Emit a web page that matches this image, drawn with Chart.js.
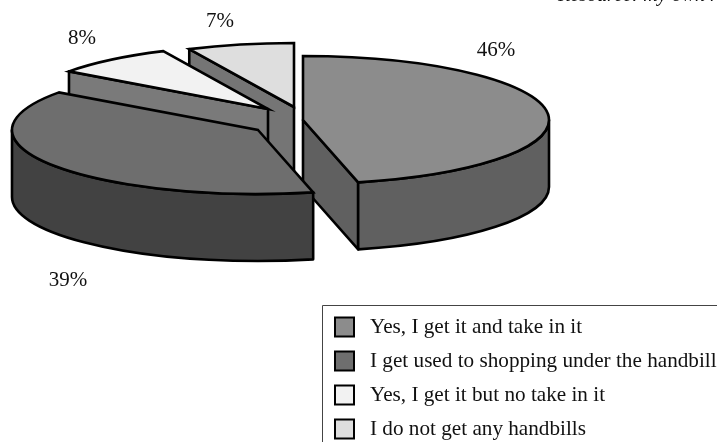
<!DOCTYPE html>
<html>
<head>
<meta charset="utf-8">
<style>
  html, body { margin: 0; padding: 0; background: #fff; }
  #wrap { position: relative; width: 717px; height: 442px; overflow: hidden; }
</style>
<script src="https://cdn.jsdelivr.net/npm/chart.js@4/dist/chart.umd.min.js"></script>
</head>
<body>
<div id="wrap"><canvas id="pie" width="717" height="442"></canvas></div>
<script>
const categories = [
  'Yes, I get it and take in it',
  'I get used to shopping under the handbill',
  'Yes, I get it but no take in it',
  'I do not get any handbills'
]
// slice sizes as measured on the picture, they round to the printed labels
const shares = [46.4, 38.6, 8, 7]
const topColors = ['#8c8c8c', '#6e6e6e', '#f2f2f2', '#dedede']
const wallColors = ['#606060', '#424242', '#7a7a7a', '#757575']

// how the flat pie is turned into the tilted, exploded one
const radiusX = 246
const radiusY = 64
const depth = 67
const explode = [[24, -1], [-21, 9], [-11, -12], [15, -14]]
const drawOrder = [3, 2, 0, 1]
const labelSpots = [[496, 50], [68, 280], [82, 38], [220, 21]]
const serif = '"Liberation Serif", serif'

function outlined(ctx, fill) {
  ctx.fillStyle = fill
  ctx.fill()
  ctx.strokeStyle = '#000'
  ctx.lineWidth = 2.6
  ctx.lineJoin = 'round'
  ctx.stroke()
}

function drawCutWall(ctx, cx, cy, angle, fill) {
  const ex = cx + radiusX * Math.cos(angle)
  const ey = cy + radiusY * Math.sin(angle)
  ctx.beginPath()
  ctx.moveTo(cx, cy)
  ctx.lineTo(ex, ey)
  ctx.lineTo(ex, ey + depth)
  ctx.lineTo(cx, cy + depth)
  ctx.closePath()
  outlined(ctx, fill)
}

function drawSlice(chart, el, i) {
  const ctx = chart.ctx
  const cx = el.x + explode[i][0]
  const cy = el.y + explode[i][1]
  const a0 = el.startAngle
  const a1 = el.endAngle

  // side walls first, the top goes over them
  if (Math.cos(a0) < -0.01) drawCutWall(ctx, cx, cy, a0, wallColors[i])
  if (Math.cos(a1) > 0.01) drawCutWall(ctx, cx, cy, a1, wallColors[i])
  const from = Math.max(a0, 0)
  const to = Math.min(a1, Math.PI)
  if (to > from) {
    ctx.beginPath()
    ctx.ellipse(cx, cy, radiusX, radiusY, 0, from, to)
    ctx.ellipse(cx, cy + depth, radiusX, radiusY, 0, to, from, true)
    ctx.closePath()
    outlined(ctx, wallColors[i])
  }

  ctx.save()
  ctx.translate(cx, cy)
  ctx.scale(radiusX / el.outerRadius, radiusY / el.outerRadius)
  ctx.translate(-el.x, -el.y)
  el.draw(ctx)
  ctx.restore()

  ctx.beginPath()
  ctx.moveTo(cx, cy)
  ctx.ellipse(cx, cy, radiusX, radiusY, 0, a0, a1)
  ctx.closePath()
  ctx.strokeStyle = '#000'
  ctx.lineWidth = 2.6
  ctx.lineJoin = 'miter'
  ctx.stroke()
}

const tiltedPie = {
  id: 'tiltedPie',
  beforeDatasetsDraw(chart) {
    const arcs = chart.getDatasetMeta(0).data
    drawOrder.forEach(i => drawSlice(chart, arcs[i], i))
    return false
  },
  afterDraw(chart) {
    const ctx = chart.ctx
    ctx.save()
    ctx.fillStyle = '#111'
    ctx.textBaseline = 'middle'
    ctx.textAlign = 'center'
    ctx.font = '21px ' + serif
    shares.forEach((v, i) => ctx.fillText(Math.round(v) + '%', labelSpots[i][0], labelSpots[i][1]))

    ctx.textAlign = 'left'
    ctx.font = 'italic 20px ' + serif
    ctx.fillText('Resource: my own research', 558, -4)

    // legend box runs off the right and bottom of the page
    ctx.strokeStyle = '#444'
    ctx.lineWidth = 1
    ctx.beginPath()
    ctx.moveTo(322.5, 442)
    ctx.lineTo(322.5, 305.5)
    ctx.lineTo(717, 305.5)
    ctx.stroke()
    ctx.font = '21.2px ' + serif
    categories.forEach((name, i) => {
      const y = 327 + i * 34
      ctx.fillStyle = topColors[i]
      ctx.strokeStyle = '#000'
      ctx.lineWidth = 2
      ctx.fillRect(335, y - 9.5, 19, 19)
      ctx.strokeRect(335, y - 9.5, 19, 19)
      ctx.fillStyle = '#111'
      ctx.fillText(name, 370, y + 0.5)
    })
    ctx.restore()
  }
}

new Chart(document.getElementById('pie'), {
  type: 'pie',
  data: {
    labels: categories,
    datasets: [{ data: shares, backgroundColor: topColors, borderWidth: 0 }]
  },
  options: {
    responsive: false,
    animation: false,
    layout: { padding: { right: 159, bottom: 200 } },
    plugins: { legend: { display: false }, tooltip: { enabled: false } }
  },
  plugins: [tiltedPie]
})
</script>
</body>
</html>
